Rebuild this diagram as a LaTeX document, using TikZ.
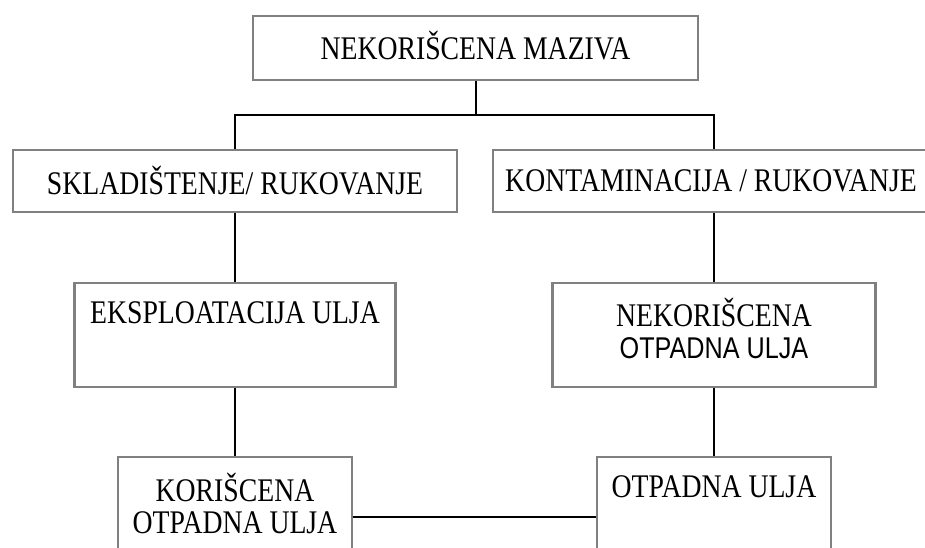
\documentclass[tikz,border=0pt]{standalone}
\usepackage{fontspec}
\setmainfont[FakeStretch=0.84]{Liberation Serif}
\newfontfamily\arialfont[FakeStretch=0.84]{Liberation Sans}
\usepackage{tikz}

\tikzset{
    box/.style={draw=gray, line width=2.5pt, fill=white, inner sep=0pt,
        minimum height=62pt, align=center},
    link/.style={line width=2pt, black},
}

\begin{document}
\begin{tikzpicture}[x=1pt, y=-1pt, font=\fontsize{33}{32}\selectfont]
    \useasboundingbox (0,0) rectangle (925,548);
    \clip (0,0) rectangle (925,548);
    % Top box
    \node[box, minimum width=445pt, minimum height=64pt] (maziva) at (475.5,48) {};
    \node (mazivat) at (475.5,46) {NEKORIŠCENA MAZIVA};
    % Second row
    \node[box, minimum width=444pt] (sklad) at (235,181) {};
    \node (skladt) at (235,181) {SKLADIŠTENJE/ RUKOVANJE};
    \node[box, minimum width=442pt] (kontam) at (714,181) {};
    \node (kontamt) at (711,181) {KONTAMINACIJA / RUKOVANJE};
    % Third row
    \node[box, minimum width=321pt, minimum height=104pt] (eksp) at (235,335) {};
    \node (ekspt) at (235,313) {EKSPLOATACIJA ULJA};
    \node[box, minimum width=323pt, minimum height=104pt] (nekot) at (714,335) {};
    \node[align=center] (nekott) at (714,328)
        {NEKORIŠCENA\\{\arialfont\fontsize{30}{32}\selectfont OTPADNA ULJA}};
    % Bottom row
    \node[box, minimum width=234pt, minimum height=120pt] (korisc) at (235,517) {};
    \node[align=center] (korisct) at (235,503) {KORIŠCENA\\OTPADNA ULJA};
    \node[box, minimum width=234pt, minimum height=120pt] (otpad) at (714,517) {};
    \node (otpadt) at (714,487) {OTPADNA ULJA};
    % Connectors
    \coordinate (fork) at (475.5,115);
    \draw[link] (maziva.south) -- (fork);
    \draw[link] (sklad.north) |- (fork) -| (kontam.north);
    \draw[link] (sklad) -- (eksp);
    \draw[link] (kontam) -- (nekot);
    \draw[link] (eksp) -- (korisc);
    \draw[link] (nekot) -- (otpad);
    \draw[link] (korisc) -- (otpad);
\end{tikzpicture}
\end{document}
